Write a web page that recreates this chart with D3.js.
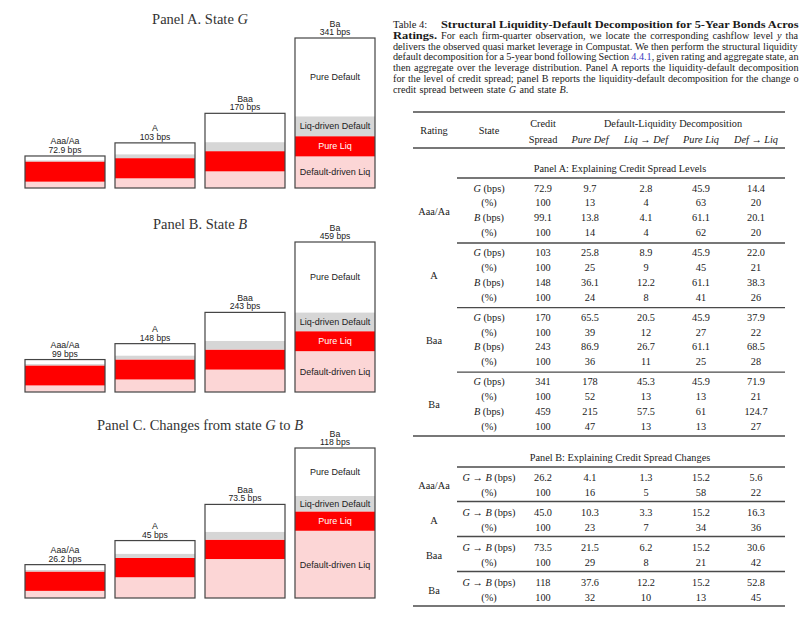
<!DOCTYPE html>
<html><head><meta charset="utf-8">
<script src="https://cdn.jsdelivr.net/npm/d3@7"></script>
<style>body{margin:0;background:#fff}svg{display:block}</style>
</head><body><svg id="c" width="800" height="626"></svg>
<script>
// ---------- data ----------
const ratings = ["Aaa/Aa", "A", "Baa", "Ba"];
const components = ["Default-driven Liq", "Pure Liq", "Liq-driven Default", "Pure Default"];
const compColors = ["#fcd6d6", "#ff0000", "#d6d6d6", "#ffffff"];
const compTextColors = ["#222", "#fff", "#222", "#222"];

// State G (bps)
const spreadG  = ["72.9", "103", "170", "341"];
const pureDefG = ["9.7", "25.8", "65.5", "178"];
const liqDefG  = ["2.8", "8.9", "20.5", "45.3"];
const pureLiqG = ["45.9", "45.9", "45.9", "45.9"];
const defLiqG  = ["14.4", "22.0", "37.9", "71.9"];
const pctG = [["13","4","63","20"], ["25","9","45","21"], ["39","12","27","22"], ["52","13","13","21"]];
// State B (bps)
const spreadB  = ["99.1", "148", "243", "459"];
const pureDefB = ["13.8", "36.1", "86.9", "215"];
const liqDefB  = ["4.1", "12.2", "26.7", "57.5"];
const pureLiqB = ["61.1", "61.1", "61.1", "61"];
const defLiqB  = ["20.1", "38.3", "68.5", "124.7"];
const pctB = [["14","4","62","20"], ["24","8","41","26"], ["36","11","25","28"], ["47","13","13","27"]];
// Change G -> B (bps)
const spreadC  = ["26.2", "45.0", "73.5", "118"];
const pureDefC = ["4.1", "10.3", "21.5", "37.6"];
const liqDefC  = ["1.3", "3.3", "6.2", "12.2"];
const pureLiqC = ["15.2", "15.2", "15.2", "15.2"];
const defLiqC  = ["5.6", "16.3", "30.6", "52.8"];
const pctC = [["16","5","58","22"], ["23","7","34","36"], ["29","8","21","42"], ["32","10","13","45"]];

// bar top labels (as printed on the chart)
const barLabelG = ["72.9 bps", "103 bps", "170 bps", "341 bps"];
const barLabelB = ["99 bps", "148 bps", "243 bps", "459 bps"];
const barLabelC = ["26.2 bps", "45 bps", "73.5 bps", "118 bps"];

// ---------- helpers ----------
const svg = d3.select("#c");
svg.append("rect").attr("width", 800).attr("height", 626).attr("fill", "#fff");
const SERIF = "'Liberation Serif', 'Times New Roman', serif";
const SANS = "'Liberation Sans', Arial, sans-serif";

function rich(g, x, y, parts, opts = {}) {
  const t = g.append("text").attr("x", x).attr("y", y)
    .attr("font-family", opts.family || SERIF)
    .attr("font-size", opts.size || 10)
    .attr("fill", opts.fill || "#1a1a1a")
    .attr("text-anchor", opts.anchor || "start");
  if (opts.bold) t.attr("font-weight", "bold");
  parts.forEach(p => {
    if (typeof p === "string") p = {t: p};
    const s = t.append("tspan").text(p.t);
    if (p.i) s.attr("font-style", "italic");
    if (p.b) s.attr("font-weight", "bold");
    if (p.c) s.attr("fill", p.c);
  });
  return t;
}

// ---------- left: three stacked bar panels ----------
const panels = [
  {title: ["Panel A. State ", {t: "G", i: true}], comps: [defLiqG, pureLiqG, liqDefG, pureDefG], labels: barLabelG, base: 188, ty: 24},
  {title: ["Panel B. State ", {t: "B", i: true}], comps: [defLiqB, pureLiqB, liqDefB, pureDefB], labels: barLabelB, base: 392, ty: 229},
  {title: ["Panel C. Changes from state ", {t: "G", i: true}, " to ", {t: "B", i: true}], comps: [defLiqC, pureLiqC, liqDefC, pureDefC], labels: barLabelC, base: 598, ty: 430}
];

const x = d3.scaleBand().domain(ratings).range([25, 375]).paddingInner(0.111).paddingOuter(0);

panels.forEach(p => {
  const g = svg.append("g");
  rich(g, 200, p.ty, p.title, {size: 14.5, anchor: "middle", fill: "#333"});
  const rows = ratings.map((r, i) => {
    const o = {rating: r};
    components.forEach((c, k) => o[c] = +p.comps[k][i]);
    return o;
  });
  const stack = d3.stack().keys(components)(rows);
  const totals = rows.map(o => d3.sum(components, c => o[c]));
  const y = d3.scaleLinear().domain([0, d3.max(totals)]).range([p.base, p.base - 150]);

  stack.forEach((layer, k) => {
    g.selectAll(null).data(layer).enter().append("rect")
      .attr("x", d => x(d.data.rating))
      .attr("width", x.bandwidth())
      .attr("y", d => y(d[1]))
      .attr("height", d => y(d[0]) - y(d[1]))
      .attr("fill", compColors[k]);
  });
  g.selectAll(null).data(rows).enter().append("rect")
    .attr("x", d => x(d.rating))
    .attr("width", x.bandwidth())
    .attr("y", (d, i) => y(totals[i]))
    .attr("height", (d, i) => y(0) - y(totals[i]))
    .attr("fill", "none").attr("stroke", "#444").attr("stroke-width", 1.2);

  // labels above bars
  rows.forEach((d, i) => {
    const cx = x(d.rating) + x.bandwidth() / 2;
    const top = y(totals[i]);
    g.append("text").attr("x", cx).attr("y", top - 11.5).attr("text-anchor", "middle")
      .attr("font-family", SANS).attr("font-size", 8.8).attr("fill", "#222").text(d.rating);
    g.append("text").attr("x", cx).attr("y", top - 3).attr("text-anchor", "middle")
      .attr("font-family", SANS).attr("font-size", 8.6).attr("fill", "#222").text(p.labels[i]);
  });

  // component labels on the last bar
  const last = ratings.length - 1;
  stack.forEach((layer, k) => {
    const d = layer[last];
    g.append("text")
      .attr("x", x(ratings[last]) + x.bandwidth() / 2)
      .attr("y", (y(d[0]) + y(d[1])) / 2 + 3.2)
      .attr("text-anchor", "middle")
      .attr("font-family", SANS).attr("font-size", 9)
      .attr("fill", compTextColors[k]).text(components[k]);
  });
});

// ---------- right: caption ----------
const cap = svg.append("g");
const capSize = 10.2, RIGHT = 798.5;
function justify(t, right) {
  const n = (t.text().match(/ /g) || []).length;
  const bb = t.node().getBBox();
  if (n > 0) t.attr("word-spacing", (right - (bb.x + bb.width)) / n);
}
function fit(t, width) {
  t.attr("textLength", width).attr("lengthAdjust", "spacingAndGlyphs");
}
// line 1
rich(cap, 393, 27.5, ["Table 4:"], {size: 10.6});
fit(rich(cap, 441, 27.5, ["Structural Liquidity-Default Decomposition for 5-Year Bonds Acros"], {size: 11, bold: true}), RIGHT - 441);
// line 2
fit(rich(cap, 393, 38.5, ["Ratings."], {size: 11, bold: true}), 44);
justify(rich(cap, 441, 38.5, ["For each firm-quarter observation, we locate the corresponding cashflow level ", {t: "y", i: true}, " tha"], {size: capSize}), RIGHT);
// lines 3-6 (justified), line 7 natural
const capLines = [
  ["delivers the observed quasi market leverage in Compustat. We then perform the structural liquidity"],
  ["default decomposition for a 5-year bond following Section ", {t: "4.4.1", c: "#3b3bbf"}, ", given rating and aggregate state, an"],
  ["then aggregate over the leverage distribution. Panel A reports the liquidity-default decomposition"],
  ["for the level of credit spread; panel B reports the liquidity-default decomposition for the change o"]
];
const capY = [49.5, 60.3, 71, 82];
capLines.forEach((l, i) => justify(rich(cap, 393, capY[i], l, {size: capSize}), RIGHT));
rich(cap, 393, 93, ["credit spread between state ", {t: "G", i: true}, " and state ", {t: "B", i: true}, "."], {size: capSize, bold: false}).attr("word-spacing", 0.8);

// ---------- right: table ----------
const tb = svg.append("g");
const L = 413, R = 785, Lin = 457;
const col = {rating: 434, state: 489, spread: 543, pd: 590, ld: 646, pl: 701, dl: 756};
const valCols = [col.spread, col.pd, col.ld, col.pl, col.dl];
const fs = 10.3;
function rule(y, x1, w) {
  tb.append("line").attr("x1", x1).attr("x2", R).attr("y1", y).attr("y2", y)
    .attr("stroke", "#4a4a4a").attr("stroke-width", w);
}
function c(xp, yc, parts) { return rich(tb, xp, yc + 3.5, parts, {size: fs, anchor: "middle"}); }

rule(112, L, 1.7);
c(col.rating, 130, ["Rating"]);
c(col.state, 130, ["State"]);
c(col.spread, 123, ["Credit"]);
c(col.spread, 139, ["Spread"]);
c(673, 123, ["Default-Liquidity Decomposition"]);
c(col.pd, 139, [{t: "Pure Def", i: true}]);
c(col.ld, 139, [{t: "Liq", i: true}, " → ", {t: "Def", i: true}]);
c(col.pl, 139, [{t: "Pure Liq", i: true}]);
c(col.dl, 139, [{t: "Def", i: true}, " → ", {t: "Liq", i: true}]);
rule(148, L, 1.5);

// Panel A
c(620, 168, ["Panel A: Explaining Credit Spread Levels"]);
rule(178, Lin, 1.3);
const gBps = ratings.map((r, i) => [spreadG[i], pureDefG[i], liqDefG[i], pureLiqG[i], defLiqG[i]]);
const bBps = ratings.map((r, i) => [spreadB[i], pureDefB[i], liqDefB[i], pureLiqB[i], defLiqB[i]]);
ratings.forEach((r, i) => {
  const y0 = 188 + i * 64.6;
  const rowsA = [
    [[{t: "G", i: true}, " (bps)"], gBps[i]],
    [["(%)"], ["100"].concat(pctG[i])],
    [[{t: "B", i: true}, " (bps)"], bBps[i]],
    [["(%)"], ["100"].concat(pctB[i])]
  ];
  rowsA.forEach((row, j) => {
    const yy = y0 + j * 14.8;
    c(col.state, yy, row[0]);
    row[1].forEach((v, k) => c(valCols[k], yy, [v]));
  });
  c(col.rating, y0 + 23, [r]);
  if (i < ratings.length - 1) rule(y0 + 55, Lin, 1.3);
});
rule(436, L, 1.7);

// Panel B
c(620, 457, ["Panel B: Explaining Credit Spread Changes"]);
rule(467, Lin, 1.3);
const cBps = ratings.map((r, i) => [spreadC[i], pureDefC[i], liqDefC[i], pureLiqC[i], defLiqC[i]]);
ratings.forEach((r, i) => {
  const y0 = 477 + i * 35;
  c(col.state, y0, [{t: "G", i: true}, " → ", {t: "B", i: true}, " (bps)"]);
  cBps[i].forEach((v, k) => c(valCols[k], y0, [v]));
  c(col.state, y0 + 15, ["(%)"]);
  ["100"].concat(pctC[i]).forEach((v, k) => c(valCols[k], y0 + 15, [v]));
  c(col.rating, y0 + 8, [r]);
  if (i < ratings.length - 1) rule(y0 + 24.5, Lin, 1.3);
});
rule(606, L, 1.7);
</script></body></html>
